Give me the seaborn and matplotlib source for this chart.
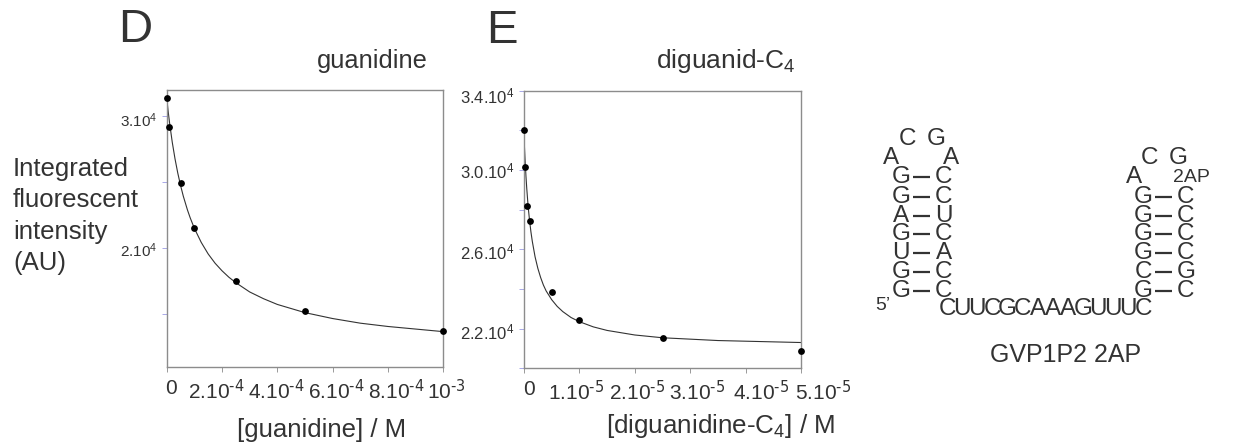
import matplotlib
matplotlib.use("Agg")
import matplotlib.pyplot as plt
from matplotlib.transforms import ScaledTranslation
import seaborn as sns

# panel D
d_x = [0, 1e-5, 5e-5, 1e-4, 2.5e-4, 5e-4, 1e-3]
d_y = [31360, 29170, 24910, 21510, 17530, 15240, 13730]
d_curve_x = [0, 5e-6, 1e-5, 2e-5, 3e-5, 4e-5, 5e-5, 6e-5, 7.5e-5, 8.5e-5, 1e-4, 1.25e-4, 1.5e-4, 1.75e-4, 2e-4,
             2.25e-4, 2.5e-4, 3e-4, 3.5e-4, 4e-4, 5e-4, 6e-4, 7e-4, 8e-4, 1e-3]
d_curve_y = [31360, 30400, 29540, 28030, 26770, 25690, 24760, 23940, 22900, 22300, 21510, 20440, 19570, 18870, 18300,
             17810, 17400, 16700, 16190, 15756, 15136, 14690, 14340, 14090, 13700]
d_xticks = [0, 2e-4, 4e-4, 6e-4, 8e-4, 1e-3]
d_xlabels = ["0", r"2.10$^{\text{-4}}$", r"4.10$^{\text{-4}}$", r"6.10$^{\text{-4}}$", r"8.10$^{\text{-4}}$", r"10$^{\text{-3}}$"]
d_yticks = [15000, 20000, 25000, 30000]
d_ylabels = ["", "2.10$^{4}$", "", "3.10$^{4}$"]

# panel E
e_x = [0, 2e-7, 5e-7, 1e-6, 5e-6, 1e-5, 2.5e-5, 5e-5]
e_y = [32000, 30150, 28170, 27430, 23830, 22450, 21530, 20860]
e_curve_x = [0, 1e-7, 2e-7, 3.5e-7, 5e-7, 7.5e-7, 1e-6, 1.25e-6, 1.5e-6, 2e-6, 2.5e-6, 3e-6, 3.5e-6, 4e-6, 5e-6, 6e-6, 7e-6,
             8.5e-6, 1e-5, 1.25e-5, 1.5e-5, 2e-5, 2.5e-5, 3.5e-5, 5e-5]
e_curve_y = [31700, 31050, 30470, 29700, 29060, 28150, 27460, 26880, 26400, 25620, 25040, 24580, 24200, 23900, 23460, 23120, 22860,
             22560, 22350, 22090, 21910, 21680, 21540, 21400, 21300]
e_xticks = [0, 1e-5, 2e-5, 3e-5, 4e-5, 5e-5]
e_xlabels = ["0", r"1.10$^{\text{-5}}$", r"2.10$^{\text{-5}}$", r"3.10$^{\text{-5}}$", r"4.10$^{\text{-5}}$", r"5.10$^{\text{-5}}$"]
e_yticks = [20000, 22000, 24000, 26000, 28000, 30000, 32000, 34000]
e_ylabels = ["", "2.2.10$^{4}$", "", "2.6.10$^{4}$", "", "3.0.10$^{4}$", "", "3.4.10$^{4}$"]

# RNA drawing text
stem1_left = list("GGAGUGG")
stem1_right = list("CCUCACC")
stem2_left = list("GGGGCG")
stem2_right = list("CCCCGC")
linker = list("CUUCGCAAAGUUUC")

sns.set_theme(style="white")
FONT = "Liberation Sans"
INK = "#333333"
plt.rcParams["font.family"] = [FONT, "DejaVu Sans"]
plt.rcParams["mathtext.default"] = "regular"
plt.rcParams["text.color"] = INK

W, H = 1233, 447
fig = plt.figure(figsize=(W / 100, H / 100), dpi=100)
overlay = fig.add_axes([0, 0, 1, 1])
overlay.set_xlim(0, W)
overlay.set_ylim(H, 0)
overlay.axis("off")


def panel(box, xs, ys, cx, cy, xlim, ylim, xt, xl, yt, yl, xoff, yoff, ysize):
    l, t, r, b = box
    ax = fig.add_axes([l / W, 1 - b / H, (r - l) / W, (b - t) / H])
    ax.patch.set_alpha(0)
    sns.lineplot(x=cx, y=cy, ax=ax, color="#333333", lw=0.8, errorbar=None, sort=False)
    sns.scatterplot(x=xs, y=ys, ax=ax, color="black", s=24, linewidth=0, clip_on=False, zorder=5)
    ax.set_xlim(*xlim)
    ax.set_ylim(*ylim)
    ax.set_xticks(xt, xl, fontsize=15, color=INK)
    ax.set_yticks(yt, yl, fontsize=ysize, color=INK)
    ax.tick_params(axis="x", bottom=True, length=3.5, width=0.7, color="#999999", pad=5)
    ax.tick_params(axis="y", left=True, length=3.5, width=0.7, color="#a9a9e8", pad=3)
    for s in ax.spines.values():
        s.set_color("#8c8c8c")
        s.set_linewidth(1.0)
    for lab, dx in zip(ax.get_xticklabels(), xoff):
        lab.set_transform(lab.get_transform() + ScaledTranslation(dx / 100, 0, fig.dpi_scale_trans))
    for lab, dy in zip(ax.get_yticklabels(), yoff):
        lab.set_transform(lab.get_transform() + ScaledTranslation(0, -dy / 100, fig.dpi_scale_trans))
    return ax


panel((166.7, 90, 443.3, 366.7), d_x, d_y, d_curve_x, d_curve_y, (0, 1e-3), (11050, 31965),
      d_xticks, d_xlabels, d_yticks, d_ylabels, [4, -6, -1, 4, 8, 3], [0, 1, 0, 3], 11)
panel((524, 90.7, 801, 368.3), e_x, e_y, e_curve_x, e_curve_y, (0, 5e-5), (20000, 34000),
      e_xticks, e_xlabels, e_yticks, e_ylabels, [5, -3, 2, 7, 15, 22], [0, 2, 0, 2, 0, 0, 0, 4], 12)


def T(x, y, s, size, ha="center", va="center"):
    return overlay.text(x, y, s, fontsize=size, ha=ha, va=va, color=INK)


T(135, 30, "D", 34)
T(502, 31, "E", 34)
T(372, 61, "guanidine", 18.3)
T(726, 61, "diguanid-C$_{4}$", 19)
T(13, 216, "Integrated\nfluorescent\nintensity\n(AU)", 18.5, ha="left").set_linespacing(1.38)
T(322, 430, "[guanidine] / M", 18.5)
T(721, 426, "[diguanidine-C$_{4}$] / M", 18.7)

RNA = 17.5
rows1 = [177, 197, 216, 234, 253, 272, 291]
rows2 = [197, 216, 234, 253, 272, 291]
for y, a, b in zip(rows1, stem1_left, stem1_right):
    T(901, y, a, RNA)
    T(944, y, b, RNA)
    overlay.plot([913, 930], [y, y], color="#333333", lw=1.6, solid_capstyle="butt")
for y, a, b in zip(rows2, stem2_left, stem2_right):
    T(1143, y, a, RNA)
    T(1186, y, b, RNA)
    overlay.plot([1155, 1172], [y, y], color="#333333", lw=1.6, solid_capstyle="butt")
for ch, x, y in [("A", 891, 158), ("C", 907, 139), ("G", 936, 139), ("A", 951, 158),
                 ("A", 1134, 177), ("C", 1150, 158), ("G", 1178, 158)]:
    T(x, y, ch, RNA)
T(1191, 177, "2AP", 14)
T(883, 306, "5’", 14)
for i, ch in enumerate(linker):
    T(947 + i * 15.1, 309, ch, RNA)
T(1066, 355, "GVP1P2 2AP", 18)

fig.savefig("out.png", dpi=100)
